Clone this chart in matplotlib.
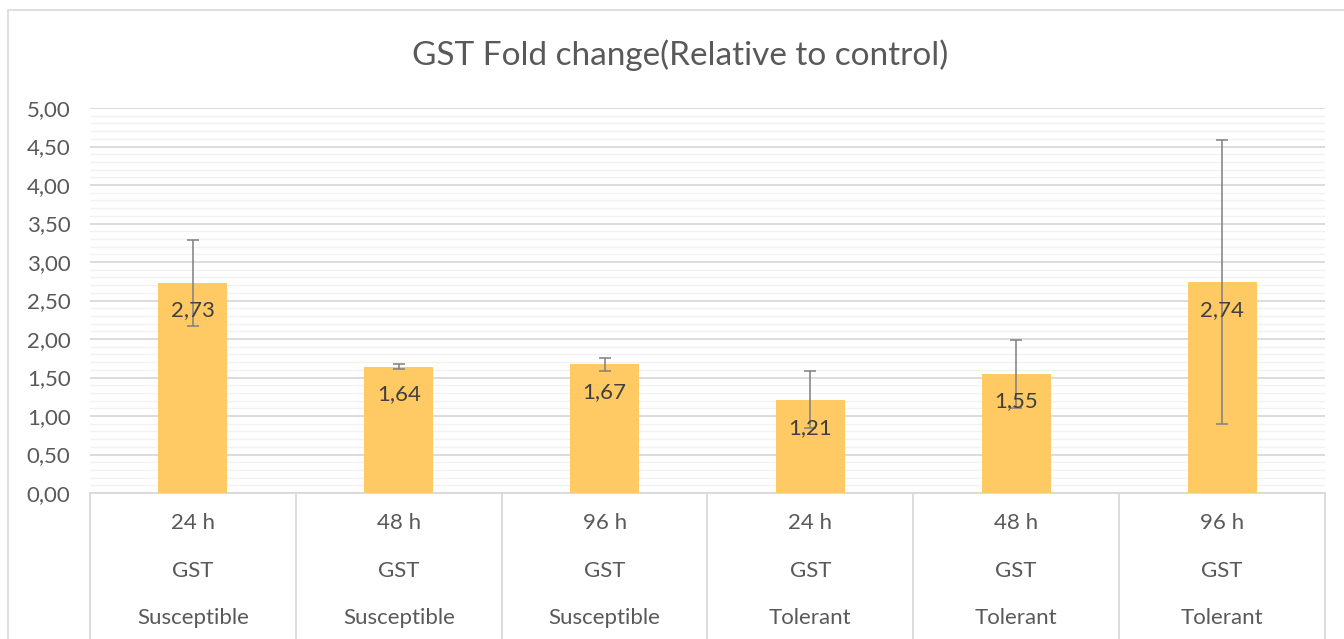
import matplotlib
matplotlib.use("Agg")
import matplotlib.pyplot as plt
from matplotlib.ticker import MultipleLocator, FuncFormatter
from matplotlib.patches import Rectangle

times = ["24 h", "48 h", "96 h", "24 h", "48 h", "96 h"]
genes = ["GST", "GST", "GST", "GST", "GST", "GST"]
groups = ["Susceptible", "Susceptible", "Susceptible", "Tolerant", "Tolerant", "Tolerant"]
values = [2.73, 1.64, 1.67, 1.21, 1.55, 2.74]
errors = [0.56, 0.035, 0.08, 0.37, 0.44, 1.84]
title = "GST Fold change(Relative to control)"

plt.rcParams['font.family'] = ['Lato', 'DejaVu Sans']
TXT = "#595959"
W, H = 1344, 639
fig = plt.figure(figsize=(W / 100, H / 100), dpi=100)

# outer chart border (cropped)
fig.patches.append(Rectangle((8 / W, -0.1), 1.2, 1 - 10 / H + 0.1, transform=fig.transFigure,
                             fill=False, edgecolor="#D9D9D9", linewidth=1.2))

left, right, bottom, top = 90, 1325, 493, 108
ax = fig.add_axes([left / W, 1 - bottom / H, (right - left) / W, (bottom - top) / H])

x = list(range(len(values)))
ax.bar(x, values, width=0.335, color="#FFCA64", zorder=3)
ax.errorbar(x, values, yerr=errors, fmt='none', ecolor="#7F7F7F", elinewidth=1.1,
            capsize=4.3, capthick=1.1, zorder=4)
for xi, v in zip(x, values):
    ax.annotate(f"{v:.2f}".replace(".", ","), (xi, v), xytext=(0, -20), textcoords="offset points",
                ha="center", va="center", fontsize=16, color="#404040", zorder=5)

ax.set_xlim(-0.5, len(values) - 0.5)
ax.set_ylim(0, 5)
ax.yaxis.set_major_locator(MultipleLocator(0.5))
ax.yaxis.set_minor_locator(MultipleLocator(0.1))
ax.yaxis.set_major_formatter(FuncFormatter(lambda v, p: f"{v:.2f}".replace(".", ",")))
ax.grid(axis="y", which="major", color="#D9D9D9", linewidth=1.3, zorder=0)
ax.grid(axis="y", which="minor", color="#F2F2F2", linewidth=1.0, zorder=0)
ax.set_axisbelow(True)
for s in ["top", "right", "left"]:
    ax.spines[s].set_visible(False)
ax.spines["bottom"].set_color("#D9D9D9")
ax.spines["bottom"].set_linewidth(1.3)
ax.tick_params(axis="y", which="both", length=0, labelsize=16, labelcolor=TXT, pad=14)
ax.tick_params(axis="x", which="both", length=0, labelbottom=False)

# multi-level category axis
depth = (H - bottom) / (bottom - top)
for b in [i - 0.5 for i in range(len(values) + 1)]:
    ax.plot([b, b], [0, -depth], transform=ax.get_xaxis_transform(), color="#D9D9D9",
            linewidth=1.3, clip_on=False)
rows = [(times, 523), (genes, 571), (groups, 618)]
for labels, ypx in rows:
    ya = -(ypx - bottom) / (bottom - top)
    for xi, lab in zip(x, labels):
        ax.text(xi, ya, lab, transform=ax.get_xaxis_transform(), ha="center", va="center",
                fontsize=16, color=TXT)

fig.text(680 / W, 1 - 55 / H, title, ha="center", va="center",
         fontsize=24, color=TXT)

fig.savefig("out.png", dpi=100)
